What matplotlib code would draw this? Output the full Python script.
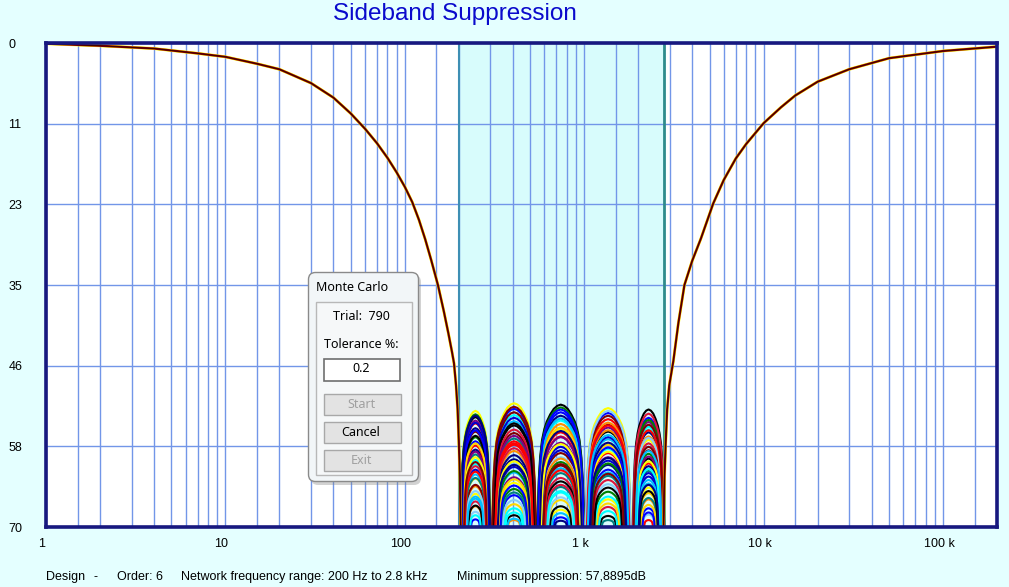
import numpy as np
import matplotlib
matplotlib.use("Agg")
import matplotlib.pyplot as plt
from matplotlib.patches import FancyBboxPatch
from matplotlib.transforms import Affine2D, ScaledTranslation

plt.rcParams['font.family'] = ['Liberation Sans', 'DejaVu Sans']

# =================================================================
# DATA
# =================================================================
# outer skirt of the suppression curve, low side and high side
LOW_FREQ = [1, 2, 4, 7, 10, 15, 20, 30, 40, 50, 60, 70, 80, 90, 100,
            110, 120, 130, 140, 153, 165, 175, 183, 188, 193, 197, 200,
            203, 205]
LOW_DB = [0.1, 0.4, 0.8, 1.5, 2.0, 3.0, 3.8, 5.8, 7.9, 10.2, 12.4, 14.5,
          16.6, 18.7, 20.8, 23.0, 25.6, 28.4, 31.3, 35.0, 38.8, 42.0,
          44.6, 46.3, 49.5, 53.0, 57.5, 63.0, 70.0]
HIGH_FREQ = [2770, 2800, 2850, 2900, 2980, 3140, 3350, 3620, 4000, 4470,
             5240, 6000, 7000, 8000, 10000, 12500, 15000, 20000, 30000,
             50000, 100000, 200000]
HIGH_DB = [70.0, 63.0, 57.5, 53.0, 49.5, 46.0, 40.5, 35.0, 31.5, 28.3,
           23.2, 19.8, 16.7, 14.6, 11.6, 9.3, 7.6, 5.6, 3.8, 2.2, 1.16,
           0.53]

# in-band ripple lobes (where the curves touch the 70 dB floor)
LOBE_LO = [205, 306, 548, 1015, 1870]
LOBE_HI = [299, 540, 1000, 1820, 2790]

# half arch profile: position from lobe centre (0..1) and drop as fraction of height
ARCH_POS = [0, 0.15, 0.3, 0.45, 0.6, 0.7, 0.8, 0.88, 0.94, 1.0]
ARCH_DROP = [0, 0.01, 0.035, 0.08, 0.14, 0.2, 0.29, 0.43, 0.62, 1.0]

# Monte Carlo trials: worst suppression of each lobe (dB)
TRIAL_PEAKS = [
    [53.2, 52.1, 55.8, 52.8, 57.4],
    [54.1, 55.3, 52.3, 56.2, 53.0],
    [57.6, 52.9, 53.4, 53.5, 54.2],
    [55.0, 58.1, 56.9, 54.4, 60.8],
    [60.3, 53.8, 54.6, 58.7, 55.5],
    [56.2, 56.4, 59.3, 55.2, 58.9],
    [58.8, 60.2, 53.9, 61.0, 56.3],
    [62.4, 54.7, 61.5, 57.3, 63.7],
    [54.6, 62.8, 57.8, 59.9, 54.8],
    [59.5, 57.2, 64.2, 62.6, 61.9],
    [64.1, 59.0, 55.1, 56.0, 66.0],
    [57.0, 64.5, 60.6, 64.9, 59.4],
    [61.7, 61.3, 58.4, 60.4, 62.7],
    [66.3, 55.9, 62.9, 67.1, 57.9],
    [63.0, 66.7, 66.1, 58.1, 65.1],
    [67.8, 60.8, 59.9, 63.8, 68.2],
    [65.2, 63.6, 67.5, 66.0, 64.3],
    [56.8, 68.3, 63.4, 68.4, 60.1],
    [68.9, 65.4, 68.6, 61.7, 67.3],
    [58.2, 57.9, 56.3, 59.3, 69.0],
    [60.9, 67.9, 65.0, 65.6, 55.9],
    [63.9, 53.4, 61.1, 53.9, 58.4],
    [55.7, 59.6, 69.1, 57.8, 61.2],
    [65.9, 62.1, 54.3, 62.1, 63.2],
    [59.1, 56.8, 57.0, 55.6, 59.8],
    [62.9, 65.0, 62.2, 69.0, 65.8],
    [67.0, 69.0, 60.1, 54.9, 56.9],
    [53.7, 61.9, 52.7, 60.8, 54.5],
    [54.9, 54.2, 58.9, 57.0, 62.2],
    [61.2, 58.6, 63.9, 63.2, 53.6],
    [57.9, 63.1, 55.6, 66.6, 66.8],
    [64.8, 66.1, 65.7, 53.2, 57.1],
    [59.9, 60.5, 58.0, 59.1, 60.5],
    [66.9, 55.0, 67.0, 64.3, 64.8],
    [56.0, 64.0, 53.0, 58.5, 67.9],
    [62.0, 57.6, 61.8, 55.3, 56.0],
    [68.3, 67.3, 64.8, 67.7, 61.6],
    [60.6, 52.6, 60.9, 62.3, 55.2],
    [53.9, 61.0, 56.1, 60.0, 63.9],
    [65.6, 68.8, 68.0, 56.7, 59.0],
]
TRIAL_COLORS = ['yellow', 'black', 'blue', 'red', 'cyan', 'maroon', 'navy',
                'deepskyblue', 'purple', 'teal', 'darkorange', 'green',
                'mediumblue', 'crimson', 'gold', 'lightskyblue']

BAND = [200, 2800]
X_TICKS = [1, 10, 100, 1000, 10000, 100000]
X_LABELS = ['1', '10', '100', '1 k', '10 k', '100 k']
MINOR_MULT = [1.5, 2, 3, 4, 5, 6, 7, 8, 9]
Y_TICKS = [0, 70 / 6, 140 / 6, 35, 280 / 6, 350 / 6, 70]
Y_LABELS = ['0', '11', '23', '35', '46', '58', '70']

# =================================================================
# FIGURE
# =================================================================
W, H = 1009, 587
BG = '#E4FFFF'
GRID = '#7296E8'
NAVY = '#17187F'

fig = plt.figure(figsize=(W / 100, H / 100), dpi=100, facecolor=BG)
ax = fig.add_axes([46 / W, 1 - 527 / H, 951 / W, 484 / H])
ax.set_facecolor('white')
ax.set_xscale('log')
ax.set_xlim(1, 200000)
ax.set_ylim(70, 0)

# pass band
ax.axvspan(BAND[0], BAND[1], color='#D8FCFC', zorder=0)
ax.axvline(BAND[0], color='#3E8FB4', lw=1.5, zorder=1)
ax.axvline(BAND[1], color='#2E8B8B', lw=2, zorder=1)

# grid
minor = [m * d for d in X_TICKS for m in MINOR_MULT if m * d <= 200000]
ax.set_xticks(X_TICKS)
ax.set_xticklabels(X_LABELS)
ax.set_xticks(minor, minor=True)
ax.set_xticklabels([], minor=True)
ax.set_yticks(Y_TICKS)
ax.set_yticklabels(Y_LABELS)
ax.grid(True, which='both', axis='x', color=GRID, lw=1, zorder=0.5)
ax.grid(True, which='major', axis='y', color=GRID, lw=1, zorder=0.5)
ax.set_axisbelow(True)
ax.tick_params(which='both', length=0)
ax.tick_params(axis='x', pad=8, labelsize=9)
ax.tick_params(axis='y', pad=27, labelsize=9)
for lab in ax.get_yticklabels():
    lab.set_horizontalalignment('left')
for lab in ax.get_xticklabels():
    lab.set_transform(lab.get_transform() +
                      ScaledTranslation(-4 / 100, 0, fig.dpi_scale_trans))
for sp in ax.spines.values():
    sp.set_color(NAVY)
    sp.set_linewidth(2.6)
    sp.set_zorder(5)

# Monte Carlo arches inside the band
half_pos = np.array(ARCH_POS)
half_drop = np.array(ARCH_DROP)
pos = np.concatenate([-half_pos[::-1], half_pos[1:]])
drop = np.concatenate([half_drop[::-1], half_drop[1:]])
peaks = np.array(TRIAL_PEAKS)
for j in range(len(LOBE_LO)):
    lc = (np.log10(LOBE_LO[j]) + np.log10(LOBE_HI[j])) / 2
    hw = (np.log10(LOBE_HI[j]) - np.log10(LOBE_LO[j])) / 2
    hmax = 70 - peaks[:, j].min()
    for i in range(len(peaks)):
        p = peaks[i, j]
        h = 70 - p
        w = hw * (h / hmax) ** 0.45
        ax.plot(10 ** (lc + pos * w), p + drop * h,
                color=TRIAL_COLORS[i % len(TRIAL_COLORS)], lw=1.5, zorder=3)

# outer skirts (all trials overlap there)
for fx, fy in [(LOW_FREQ, LOW_DB), (HIGH_FREQ, HIGH_DB)]:
    ax.plot(fx, fy, color='yellow', lw=2.1, zorder=3.5)
    ax.plot(fx, fy, color='#8B0000', lw=1.6, zorder=3.6)
    ax.plot(fx, fy, color='#200000', lw=0.5, zorder=3.7)

# title and status line
fig.text(455 / W, 1 - 14 / H, 'Sideband Suppression', color='#0A0ACC',
         fontsize=17.5, ha='center', va='center')
status = [(46, 'Design'), (93, '-'), (117, 'Order: 6'),
          (181, 'Network frequency range: 200 Hz to 2.8 kHz'),
          (457, 'Minimum suppression: 57,8895dB')]
for px, s in status:
    fig.text(px / W, 1 - 577 / H, s, fontsize=9, ha='left', va='center')

# =================================================================
# Monte Carlo dialog (pixel coordinates, origin top-left)
# =================================================================
pix = Affine2D().scale(1 / W, -1 / H).translate(0, 1) + fig.transFigure


def box(x0, y0, x1, y1, fc, ec, lw=1.0, r=0.0, alpha=1.0, z=10):
    style = 'round,pad=0,rounding_size=%g' % r if r else 'square,pad=0'
    p = FancyBboxPatch((x0, y0), x1 - x0, y1 - y0, boxstyle=style,
                       fc=fc, ec=ec, lw=lw, alpha=alpha,
                       transform=pix, zorder=z)
    fig.patches.append(p)


def label(x, y, s, color='black', ha='center'):
    fig.text(x, y, s, transform=pix, fontsize=9, color=color, ha=ha,
             va='center', family=['Noto Sans', 'DejaVu Sans'], zorder=20)


box(311, 275, 421, 485, '#808080', 'none', r=7, alpha=0.35, z=9)
box(308.5, 272.5, 418.5, 481.5, '#F2F6F8', '#8A8A8A', lw=1.0, r=7)
box(315.5, 301.5, 411.5, 474.5, '#F6F8F9', '#B8B8B8', lw=1.0, z=11)
box(323.5, 358.5, 399.5, 380.5, 'white', '#6E6E6E', lw=1.2, z=12)
for y0, y1 in [(393.5, 414.5), (421.5, 442.5), (449.5, 470.5)]:
    box(323.5, y0, 400.5, y1, '#E3E3E3', '#A8A8A8', lw=1.0, z=12)

label(316, 287.5, 'Monte Carlo', ha='left')
label(361, 317, 'Trial:  790')
label(361, 345, 'Tolerance %:')
label(361, 369, '0.2')
label(361, 404, 'Start', color='#A0A0A0')
label(361, 432, 'Cancel')
label(361, 460, 'Exit', color='#A0A0A0')

fig.savefig('out.png', dpi=100, facecolor=BG)
